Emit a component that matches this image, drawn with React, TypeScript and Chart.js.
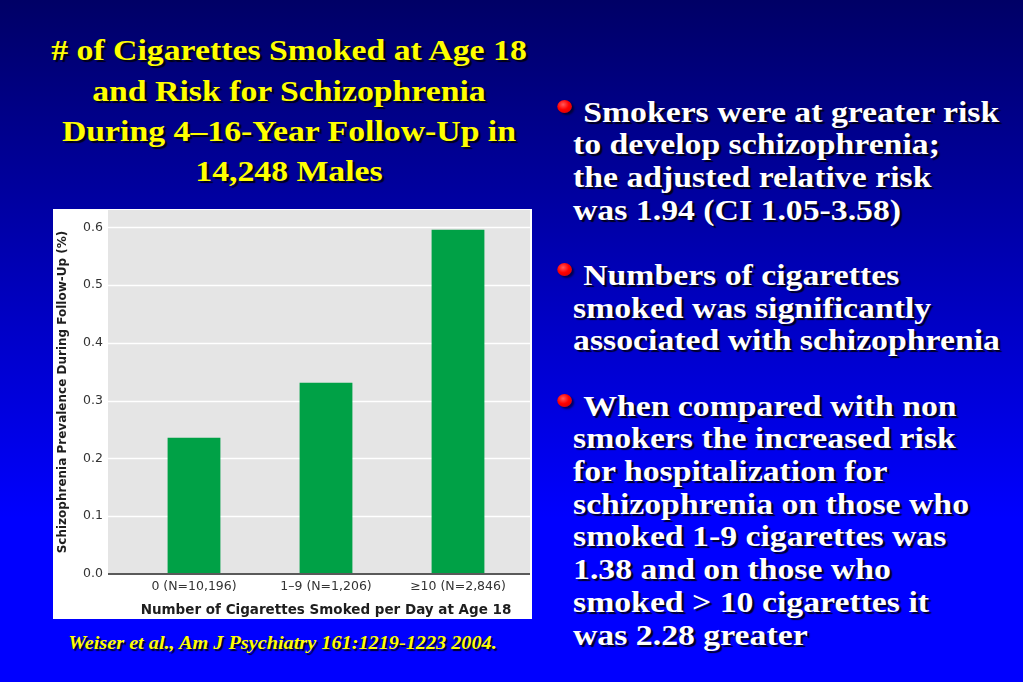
import React, { useEffect, useRef } from "react";
import { Chart, registerables } from "chart.js";

Chart.register(...registerables);

const categories = ["0 (N=10,196)", "1–9 (N=1,206)", "≥10 (N=2,846)"];
const prevalence = [0.236, 0.331, 0.596];
const yTicks = [0, 0.1, 0.2, 0.3, 0.4, 0.5, 0.6];
const yMax = 0.63;
const xTitle = "Number of Cigarettes Smoked per Day at Age 18";
const yTitle = "Schizophrenia Prevalence During Follow-Up (%)";

const titleLines = [
  "# of Cigarettes Smoked at Age 18",
  "and Risk for Schizophrenia",
  "During 4–16-Year Follow-Up in",
  "14,248 Males",
];

const bullet1 = [
  "Smokers were at greater risk",
  "to develop schizophrenia;",
  "the adjusted relative risk",
  "was 1.94 (CI 1.05-3.58)",
];
const bullet2 = [
  "Numbers of cigarettes",
  "smoked was significantly",
  "associated with schizophrenia",
];
const bullet3 = [
  "When compared with non",
  "smokers the increased risk",
  "for hospitalization for",
  "schizophrenia on those who",
  "smoked 1-9 cigarettes was",
  "1.38 and on those who",
  "smoked > 10 cigarettes it",
  "was 2.28 greater",
];
const citation = "Weiser et al., Am J Psychiatry 161:1219-1223 2004.";

const SANS = "'DejaVu Sans', sans-serif";
const SERIF = "'Liberation Serif', 'Times New Roman', serif";
const STRETCH = 1.125;

const panelPlugin = {
  id: "panel",
  beforeDraw(chart: any) {
    const { ctx, chartArea: a, scales } = chart;
    const y = scales.y;
    const left = a.left - 20;
    const right = a.right + 6;
    ctx.save();
    ctx.fillStyle = "#e5e5e5";
    ctx.fillRect(left, a.top, right - left, a.bottom - a.top);
    ctx.strokeStyle = "#ffffff";
    ctx.lineWidth = 1.5;
    yTicks.forEach((v) => {
      if (v === 0) return;
      const py = Math.round(y.getPixelForValue(v)) + 0.5;
      ctx.beginPath();
      ctx.moveTo(left, py);
      ctx.lineTo(right, py);
      ctx.stroke();
    });
    ctx.restore();
  },
  afterDatasetsDraw(chart: any) {
    const { ctx, chartArea: a, scales } = chart;
    const y0 = scales.y.getPixelForValue(0);
    ctx.save();
    ctx.strokeStyle = "#5a5a5a";
    ctx.lineWidth = 2;
    ctx.beginPath();
    ctx.moveTo(a.left - 20, y0);
    ctx.lineTo(a.right + 6, y0);
    ctx.stroke();
    ctx.restore();
  },
};

function BarChart() {
  const ref = useRef<HTMLCanvasElement | null>(null);
  useEffect(() => {
    if (!ref.current) return;
    const chart = new Chart(ref.current, {
      type: "bar",
      data: {
        labels: categories,
        datasets: [
          {
            data: prevalence,
            backgroundColor: "#00a146",
            borderWidth: 0,
            barPercentage: 0.4,
            categoryPercentage: 1,
          },
        ],
      },
      options: {
        animation: false,
        responsive: false,
        maintainAspectRatio: false,
        layout: { padding: { top: 1, right: 8, left: 0, bottom: 0 } },
        plugins: {
          legend: { display: false },
          tooltip: { enabled: false },
        },
        scales: {
          x: {
            grid: { display: false, drawTicks: false },
            border: { display: false },
            ticks: {
              color: "#333333",
              font: { family: SANS, size: 12.5 },
              padding: 5,
              maxRotation: 0,
              autoSkip: false,
            },
            title: {
              display: true,
              text: xTitle,
              color: "#1e1e1e",
              font: { family: SANS, size: 13.5, weight: "bold" },
              padding: { top: 0, bottom: 0 },
            },
            afterFit: (s: any) => {
              s.height = 45;
              s.paddingLeft = 0;
              s.paddingRight = 0;
            },
          },
          y: {
            min: 0,
            max: yMax,
            grid: { display: false, drawTicks: false },
            border: { display: false },
            afterBuildTicks: (s: any) => {
              s.ticks = yTicks.map((v) => ({ value: v }));
            },
            ticks: {
              color: "#333333",
              font: { family: SANS, size: 12.5 },
              padding: 25,
              callback: (v: any) => Number(v).toFixed(1),
            },
            title: {
              display: true,
              text: yTitle,
              color: "#1e1e1e",
              font: { family: SANS, size: 12, weight: "bold" },
              padding: { top: 3, bottom: 0 },
            },
            afterFit: (s: any) => {
              s.width = 75;
              s.paddingTop = 0;
              s.paddingBottom = 0;
            },
          },
        },
      },
      plugins: [panelPlugin],
    } as any);
    return () => chart.destroy();
  }, []);
  return <canvas ref={ref} width={479} height={410} style={{ display: "block" }} />;
}

const shadow = "2px 2px 1px rgba(0,0,0,0.85)";

function Dot() {
  return (
    <span
      style={{
        position: "absolute",
        left: -14,
        top: 4.5,
        width: 13,
        height: 13,
        borderRadius: "50%",
        background: "radial-gradient(circle at 40% 35%, #ff5a5a 0%, #ff0000 45%, #c80000 100%)",
        boxShadow: "2px 2px 2px rgba(0,0,0,0.6)",
      }}
    />
  );
}

function Paragraph({ lines }: { lines: string[] }) {
  return (
    <>
      {lines.map((l, i) => (
        <div key={i} style={{ position: "relative", height: 32.7, whiteSpace: "nowrap" }}>
          {i === 0 ? <Dot /> : null}
          <span style={{ paddingLeft: i === 0 ? 9 : 0 }}>{l}</span>
        </div>
      ))}
    </>
  );
}

export default function App() {
  return (
    <div
      style={{
        position: "absolute",
        left: 0,
        top: 0,
        width: 1023,
        height: 682,
        overflow: "hidden",
        background: "linear-gradient(to bottom, #000066 0%, #0000ff 76%, #0000ff 100%)",
      }}
    >
      <div
        style={{
          position: "absolute",
          left: 0,
          top: 30.4,
          width: 578 / STRETCH,
          transform: `scaleX(${STRETCH})`,
          transformOrigin: "left top",
          textAlign: "center",
          fontFamily: SERIF,
          fontWeight: "bold",
          fontSize: 30,
          lineHeight: "40.3px",
          color: "#ffff00",
          textShadow: shadow,
          whiteSpace: "nowrap",
        }}
      >
        {titleLines.map((l, i) => (
          <div key={i}>{l}</div>
        ))}
      </div>

      <div
        style={{
          position: "absolute",
          left: 53,
          top: 209,
          width: 479,
          height: 410,
          background: "#ffffff",
        }}
      >
        <BarChart />
      </div>

      <div
        style={{
          position: "absolute",
          left: 0,
          top: 633,
          width: 565 / STRETCH,
          transform: `scaleX(${STRETCH})`,
          transformOrigin: "left top",
          textAlign: "center",
          fontFamily: SERIF,
          fontWeight: "bold",
          fontStyle: "italic",
          fontSize: 18,
          lineHeight: "20px",
          color: "#ffff00",
          textShadow: "1.5px 1.5px 1px rgba(0,0,0,0.85)",
          whiteSpace: "nowrap",
        }}
      >
        {citation}
      </div>

      <div
        style={{
          position: "absolute",
          left: 573,
          top: 95.5,
          width: 400,
          transform: `scaleX(${STRETCH})`,
          transformOrigin: "left top",
          fontFamily: SERIF,
          fontWeight: "bold",
          fontSize: 30,
          lineHeight: "32.7px",
          color: "#ffffff",
          textShadow: shadow,
        }}
      >
        <Paragraph lines={bullet1} />
        <div style={{ height: 32.7 }} />
        <Paragraph lines={bullet2} />
        <div style={{ height: 32.7 }} />
        <Paragraph lines={bullet3} />
      </div>
    </div>
  );
}
